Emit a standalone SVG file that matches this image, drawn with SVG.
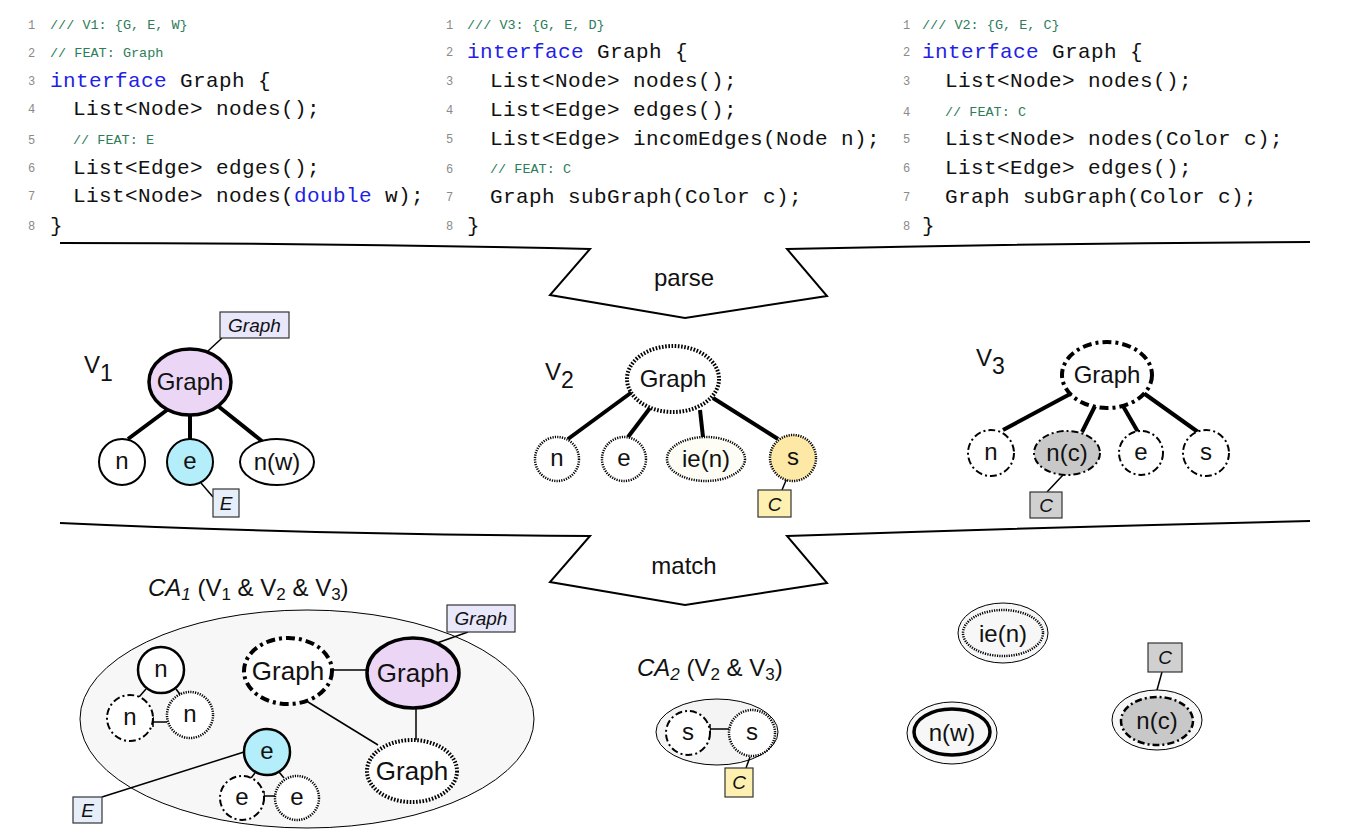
<svg xmlns="http://www.w3.org/2000/svg" width="1368" height="837" viewBox="0 0 1368 837">
<style>
.code{font-family:"Liberation Mono","DejaVu Sans Mono",monospace;font-size:21px;letter-spacing:0.4px;fill:#111}
.cmt{font-family:"Liberation Mono","DejaVu Sans Mono",monospace;font-size:13.5px;fill:#2e7d5a}
.ln{font-family:"Liberation Mono","DejaVu Sans Mono",monospace;font-size:12px;fill:#8a8a8a}
.kw{fill:#1f1fe6}
.t{font-family:"Liberation Sans",Arial,sans-serif;font-size:24px;text-anchor:middle;fill:#111}
.tb{font-family:"Liberation Sans",Arial,sans-serif;font-size:26px;text-anchor:middle;fill:#111}
.lt{font-family:"Liberation Sans",Arial,sans-serif;font-size:19px;font-style:italic;text-anchor:middle;fill:#111}
.title{font-family:"Liberation Sans",Arial,sans-serif;font-size:24px;fill:#111}
.s{fill:#fff;stroke:#000;stroke-width:2}
.sB{fill:#fff;stroke:#000;stroke-width:3.5}
.d{fill:#fff;stroke:#000;stroke-width:2.5;stroke-dasharray:1.2 1.2}
.dB{fill:#fff;stroke:#000;stroke-width:4;stroke-dasharray:1.6 1.6}
.dd{fill:#fff;stroke:#000;stroke-width:2;stroke-dasharray:7 3 2 3}
.ddB{fill:#fff;stroke:#000;stroke-width:4;stroke-dasharray:9 4 3 4}
.edge{stroke:#000;stroke-width:4;fill:none}
.thin{stroke:#000;stroke-width:1.5;fill:none}
.box{stroke:#333;stroke-width:1.2}
.grp{fill:#f7f7f7;stroke:#000;stroke-width:1}
.arrow{fill:none;stroke:#000;stroke-width:2;stroke-linejoin:miter}
</style>

<!-- code block 1 -->
<g id="code-v1">
<text class="ln" x="28" y="29">1</text><text class="cmt" x="50" y="29">/// V1: {G, E, W}</text>
<text class="ln" x="28" y="57">2</text><text class="cmt" x="50" y="57">// FEAT: Graph</text>
<text class="ln" x="28" y="85">3</text><text class="code" x="50" y="87"><tspan class="kw">interface</tspan> Graph {</text>
<text class="ln" x="28" y="113">4</text><text class="code" x="73" y="115">List&lt;Node&gt; nodes();</text>
<text class="ln" x="28" y="144">5</text><text class="cmt" x="73" y="144">// FEAT: E</text>
<text class="ln" x="28" y="172">6</text><text class="code" x="73" y="174">List&lt;Edge&gt; edges();</text>
<text class="ln" x="28" y="200">7</text><text class="code" x="73" y="202">List&lt;Node&gt; nodes(<tspan class="kw">double</tspan> w);</text>
<text class="ln" x="28" y="230">8</text><text class="code" x="50" y="232">}</text>
</g>

<!-- code block 2 -->
<g id="code-v3">
<text class="ln" x="446" y="29">1</text><text class="cmt" x="467" y="29">/// V3: {G, E, D}</text>
<text class="ln" x="446" y="56">2</text><text class="code" x="467" y="58"><tspan class="kw">interface</tspan> Graph {</text>
<text class="ln" x="446" y="85">3</text><text class="code" x="490" y="87">List&lt;Node&gt; nodes();</text>
<text class="ln" x="446" y="114">4</text><text class="code" x="490" y="116">List&lt;Edge&gt; edges();</text>
<text class="ln" x="446" y="143">5</text><text class="code" x="490" y="145">List&lt;Edge&gt; incomEdges(Node n);</text>
<text class="ln" x="446" y="173">6</text><text class="cmt" x="490" y="173">// FEAT: C</text>
<text class="ln" x="446" y="201">7</text><text class="code" x="490" y="203">Graph subGraph(Color c);</text>
<text class="ln" x="446" y="230">8</text><text class="code" x="467" y="232">}</text>
</g>

<!-- code block 3 -->
<g id="code-v2">
<text class="ln" x="903" y="29">1</text><text class="cmt" x="922" y="29">/// V2: {G, E, C}</text>
<text class="ln" x="903" y="56">2</text><text class="code" x="922" y="58"><tspan class="kw">interface</tspan> Graph {</text>
<text class="ln" x="903" y="85">3</text><text class="code" x="945" y="87">List&lt;Node&gt; nodes();</text>
<text class="ln" x="903" y="116">4</text><text class="cmt" x="945" y="116">// FEAT: C</text>
<text class="ln" x="903" y="143">5</text><text class="code" x="945" y="145">List&lt;Node&gt; nodes(Color c);</text>
<text class="ln" x="903" y="172">6</text><text class="code" x="945" y="174">List&lt;Edge&gt; edges();</text>
<text class="ln" x="903" y="201">7</text><text class="code" x="945" y="203">Graph subGraph(Color c);</text>
<text class="ln" x="903" y="230">8</text><text class="code" x="922" y="232">}</text>
</g>

<!-- parse / match arrows -->
<g id="parse">
<path class="arrow" d="M60,243 Q330,243 590,249 L550,295 L685,318 L827,296 L787,249 Q1050,243 1310,242"/>
<text class="t" x="684" y="286">parse</text>
</g>
<g id="match">
<path class="arrow" d="M60,523 Q300,534 590,536 L550,582 L685,605 L827,583 L787,536 Q1050,527 1310,521"/>
<text class="t" x="684" y="574">match</text>
</g>

<!-- CA containers -->
<g id="CA1">
<text class="title" x="148" y="596"><tspan font-style="italic">CA</tspan><tspan font-style="italic" font-size="17" dy="4">1</tspan><tspan dy="-4"> (V</tspan><tspan font-size="17" dy="4">1</tspan><tspan dy="-4"> &amp; V</tspan><tspan font-size="17" dy="4">2</tspan><tspan dy="-4"> &amp; V</tspan><tspan font-size="17" dy="4">3</tspan><tspan dy="-4">)</tspan></text>
<ellipse class="grp" cx="307" cy="719" rx="227" ry="109"/>
</g>
<g id="CA2">
<text class="title" x="637" y="676"><tspan font-style="italic">CA</tspan><tspan font-style="italic" font-size="17" dy="4">2</tspan><tspan dy="-4"> (V</tspan><tspan font-size="17" dy="4">2</tspan><tspan dy="-4"> &amp; V</tspan><tspan font-size="17" dy="4">3</tspan><tspan dy="-4">)</tspan></text>
<ellipse class="grp" cx="717" cy="732" rx="61" ry="33" style="fill:#f4f4f4"/>
</g>

<!-- connectors -->
<g id="connectors">
<!-- V1 -->
<line class="edge" x1="167" y1="410" x2="128" y2="439"/>
<line class="edge" x1="190" y1="414" x2="190" y2="439"/>
<line class="edge" x1="218" y1="406" x2="263" y2="442"/>
<line class="thin" x1="208" y1="351" x2="222" y2="338"/>
<line class="thin" x1="201" y1="483" x2="213" y2="497"/>
<!-- V2 -->
<line class="edge" x1="632" y1="392" x2="568" y2="439"/>
<line class="edge" x1="650" y1="408" x2="628" y2="437"/>
<line class="edge" x1="700" y1="410" x2="703" y2="437"/>
<line class="edge" x1="713" y1="398" x2="778" y2="439"/>
<line class="thin" x1="787" y1="478" x2="782" y2="490"/>
<!-- V3 -->
<line class="edge" x1="1072" y1="393" x2="1003" y2="430"/>
<line class="edge" x1="1095" y1="406" x2="1082" y2="432"/>
<line class="edge" x1="1123" y1="406" x2="1138" y2="432"/>
<line class="edge" x1="1142" y1="392" x2="1198" y2="432"/>
<line class="thin" x1="1063" y1="475" x2="1047" y2="492"/>
<!-- CA1 -->
<line class="thin" x1="468" y1="632" x2="437" y2="643"/>
<line class="thin" x1="333" y1="670" x2="367" y2="670"/>
<line class="thin" x1="416" y1="709" x2="416" y2="740"/>
<line class="thin" x1="308" y1="702" x2="378" y2="745"/>
<line class="thin" x1="146" y1="689" x2="139" y2="697"/>
<line class="thin" x1="176" y1="689" x2="182" y2="697"/>
<line class="thin" x1="153" y1="722" x2="167" y2="722"/>
<line class="thin" x1="153" y1="717" x2="153" y2="727"/>
<line class="thin" x1="255" y1="773" x2="251" y2="778"/>
<line class="thin" x1="279" y1="772" x2="284" y2="778"/>
<line class="thin" x1="264" y1="796" x2="275" y2="796"/>
<line class="thin" x1="264" y1="791" x2="264" y2="801"/>
<line class="thin" x1="244" y1="752" x2="102" y2="797"/>
<!-- CA2 -->
<line class="thin" x1="710" y1="729" x2="729" y2="729"/>
<line class="thin" x1="710" y1="724" x2="710" y2="734"/>
<line class="thin" x1="750" y1="757" x2="746" y2="768"/>
<!-- right -->
<line class="thin" x1="1162" y1="672" x2="1157" y2="690"/>
</g>

<!-- V1 -->
<g id="V1-label"><text class="title" x="84" y="373" font-size="32">V<tspan font-size="23" dy="8">1</tspan></text></g>
<g id="v1-graph"><ellipse class="sB" cx="190" cy="382" rx="41" ry="33" style="fill:#ebd7f5"/><text class="t" x="190" y="390">Graph</text></g>
<g id="v1-graph-lbl"><rect class="box" x="220" y="312" width="69" height="26" fill="#e9e8fa"/><text class="lt" x="254.5" y="332">Graph</text></g>
<g id="v1-n"><circle class="s" cx="122" cy="462" r="23"/><text class="t" x="122" y="469">n</text></g>
<g id="v1-e"><circle class="s" cx="190" cy="462" r="23" style="fill:#b3eefa"/><text class="t" x="190" y="469">e</text></g>
<g id="v1-e-lbl"><rect class="box" x="213" y="489" width="26" height="28" fill="#e6eefa"/><text class="lt" x="226" y="510">E</text></g>
<g id="v1-nw"><ellipse class="s" cx="277" cy="462" rx="37" ry="23"/><text class="t" x="277" y="470">n(w)</text></g>

<!-- V2 -->
<g id="V2-label"><text class="title" x="545" y="380" font-size="32">V<tspan font-size="23" dy="8">2</tspan></text></g>
<g id="v2-graph"><ellipse class="dB" cx="673" cy="379" rx="46" ry="33"/><text class="t" x="673" y="387">Graph</text></g>
<g id="v2-n"><circle class="d" cx="557" cy="459" r="22"/><text class="t" x="557" y="466">n</text></g>
<g id="v2-e"><circle class="d" cx="624" cy="459" r="22"/><text class="t" x="624" y="466">e</text></g>
<g id="v2-ien"><ellipse class="d" cx="706" cy="459" rx="39" ry="22" style="fill:#fdfdf5"/><text class="t" x="706" y="467">ie(n)</text></g>
<g id="v2-s"><circle class="d" cx="793" cy="458" r="23" style="fill:#fde8a6"/><text class="t" x="793" y="465">s</text></g>
<g id="v2-s-lbl"><rect class="box" x="758" y="490" width="33" height="27" fill="#fdf0b0"/><text class="lt" x="774.5" y="511">C</text></g>

<!-- V3 -->
<g id="V3-label"><text class="title" x="976" y="366" font-size="32">V<tspan font-size="23" dy="8">3</tspan></text></g>
<g id="v3-graph"><ellipse class="ddB" cx="1107" cy="375" rx="45" ry="33"/><text class="t" x="1107" y="383">Graph</text></g>
<g id="v3-n"><circle class="dd" cx="991" cy="453" r="23"/><text class="t" x="991" y="460">n</text></g>
<g id="v3-nc"><ellipse class="dd" cx="1067" cy="453" rx="33" ry="22" style="fill:#c8c8c8"/><text class="t" x="1067" y="461">n(c)</text></g>
<g id="v3-nc-lbl"><rect class="box" x="1030" y="492" width="32" height="26" fill="#d0d0d0"/><text class="lt" x="1046" y="512">C</text></g>
<g id="v3-e"><circle class="dd" cx="1141" cy="453" r="22"/><text class="t" x="1141" y="460">e</text></g>
<g id="v3-s"><circle class="dd" cx="1206" cy="453" r="23"/><text class="t" x="1206" y="460">s</text></g>

<!-- CA1 nodes -->
<g id="ca1-graph-v1"><ellipse class="sB" cx="413" cy="673" rx="46" ry="35" style="fill:#ebd7f5"/><text class="tb" x="413" y="682">Graph</text></g>
<g id="ca1-graph-lbl"><rect class="box" x="447" y="605" width="68" height="27" fill="#e9e8fa"/><text class="lt" x="481" y="625">Graph</text></g>
<g id="ca1-graph-v3"><ellipse class="ddB" cx="288" cy="671" rx="44" ry="33"/><text class="tb" x="288" y="680">Graph</text></g>
<g id="ca1-graph-v2"><ellipse class="dB" cx="412" cy="771" rx="45" ry="31"/><text class="tb" x="412" y="780">Graph</text></g>
<g id="ca1-n-v1"><circle class="s" cx="161" cy="670" r="23" style="stroke-width:2.5"/><text class="t" x="161" y="677">n</text></g>
<g id="ca1-n-v3"><circle class="dd" cx="130" cy="718" r="23"/><text class="t" x="130" y="725">n</text></g>
<g id="ca1-n-v2"><circle class="d" cx="190" cy="715" r="23"/><text class="t" x="190" y="722">n</text></g>
<g id="ca1-e-v1"><circle class="s" cx="267" cy="752" r="23" style="fill:#b3eefa;stroke-width:2.5"/><text class="t" x="267" y="759">e</text></g>
<g id="ca1-e-lbl"><rect class="box" x="73" y="797" width="29" height="26" fill="#e6eefa"/><text class="lt" x="87.5" y="817">E</text></g>
<g id="ca1-e-v3"><circle class="dd" cx="242" cy="798" r="22"/><text class="t" x="242" y="805">e</text></g>
<g id="ca1-e-v2"><circle class="d" cx="297" cy="798" r="22"/><text class="t" x="297" y="805">e</text></g>

<!-- CA2 nodes -->
<g id="ca2-s-v3"><circle class="dd" cx="688" cy="733" r="22"/><text class="t" x="688" y="740">s</text></g>
<g id="ca2-s-v2"><circle class="d" cx="752" cy="733" r="23"/><text class="t" x="752" y="740">s</text></g>
<g id="ca2-lbl"><rect class="box" x="725" y="768" width="28" height="29" fill="#fdf0b0"/><text class="lt" x="739" y="789">C</text></g>

<!-- single-version nodes -->
<g id="single-ien"><ellipse class="grp" cx="1003" cy="633" rx="45" ry="30"/><ellipse class="d" cx="1003" cy="633" rx="40" ry="23" style="fill:#f7f7f7"/><text class="t" x="1003" y="642">ie(n)</text></g>
<g id="single-nw"><ellipse class="grp" cx="952" cy="733" rx="45" ry="31"/><ellipse class="sB" cx="952" cy="732" rx="38" ry="23" style="fill:#f7f7f7"/><text class="t" x="952" y="741">n(w)</text></g>
<g id="single-nc"><ellipse class="grp" cx="1157" cy="720" rx="45" ry="30"/><ellipse class="dd" cx="1157" cy="721" rx="36" ry="24" style="fill:#c8c8c8;stroke-width:2.5"/><text class="t" x="1157" y="729">n(c)</text></g>
<g id="single-nc-lbl"><rect class="box" x="1148" y="643" width="34" height="29" fill="#d0d0d0"/><text class="lt" x="1165" y="664">C</text></g>
</svg>
